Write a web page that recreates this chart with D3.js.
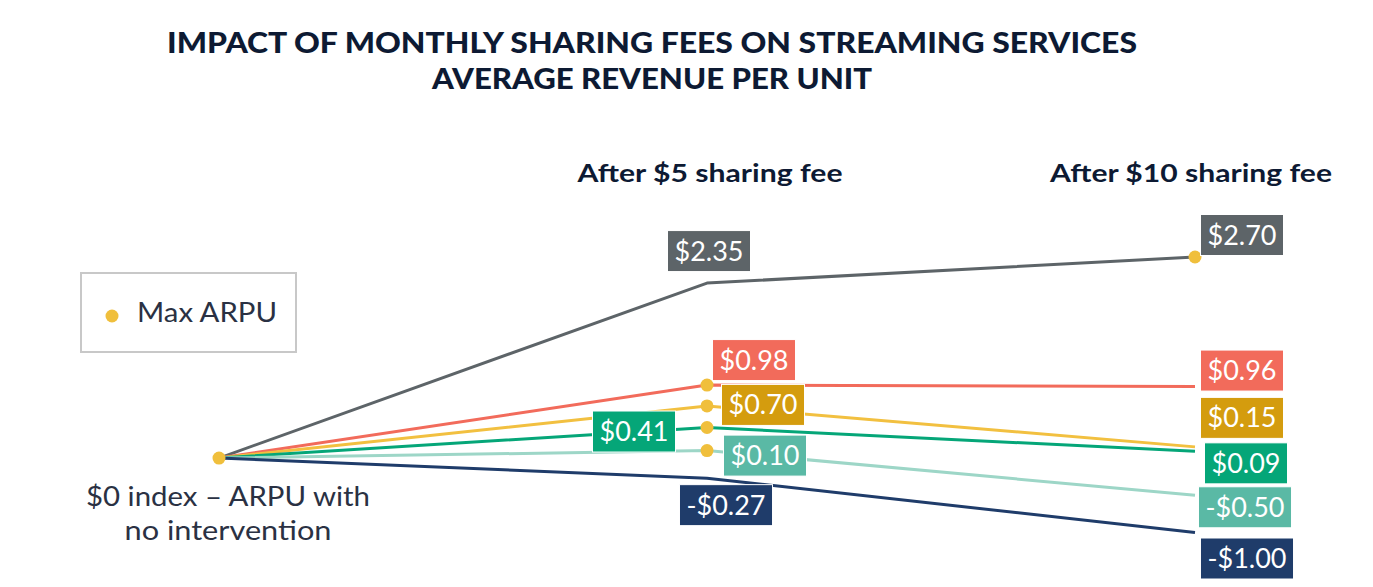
<!DOCTYPE html>
<html><head><meta charset="utf-8">
<script src="https://cdn.jsdelivr.net/npm/d3@7"></script>
<style>body{margin:0;background:#fff}svg{display:block}</style>
</head><body>
<svg id="c" width="1373" height="587"></svg>
<script>
// ---- data ----
const categories = ["$0 index", "After $5 sharing fee", "After $10 sharing fee"];
const seriesNames = ["Grey", "Coral", "Yellow", "Green", "Teal", "Navy"];
const greyValues   = [0, 2.35, 2.70];
const coralValues  = [0, 0.98, 0.96];
const yellowValues = [0, 0.70, 0.15];
const greenValues  = [0, 0.41, 0.09];
const tealValues   = [0, 0.10, -0.50];
const navyValues   = [0, -0.27, -1.00];
const maxArpuIndex = [2, 1, 1, 1, 1, 0]; // category index of max ARPU per series
const titleLines = ["IMPACT OF MONTHLY SHARING FEES ON STREAMING SERVICES", "AVERAGE REVENUE PER UNIT"];
const originLabel = ["$0 index \u2013 ARPU with", "no intervention"];
const legendLabel = "Max ARPU";

// ---- styles / layout ----
const lineColors  = ["#5d6468", "#f26b5b", "#f2c040", "#05a678", "#9dd6c7", "#1f3c6a"];
const labelColors = ["#5d6468", "#f26b5b", "#d49c0e", "#05a678", "#5ab9a5", "#1f3c6a"];
const dotColor = "#f0bf3c";
// label box centre offsets from data point [category][series] -> [dx, dy]
const labelOffsets = {
  1: [[2,-32],[47,-25],[56,-1],[-73,4],[58,5],[19,27]],
  2: [[47,-22],[47,-16],[47,-29],[51,12],[50,12],[52,26]]
};

const allValues = [greyValues, coralValues, yellowValues, greenValues, tealValues, navyValues];
const series = seriesNames.map((n,i)=>({name:n, values:allValues[i], color:lineColors[i], label:labelColors[i], maxIdx:maxArpuIndex[i]}));

const svg = d3.select("#c");
const font = "'Lato','Open Sans',sans-serif";

const x = d3.scalePoint().domain(categories).range([219, 1195]);
const y = d3.scaleLinear().domain([-1, 2.7]).range([532.5, 257]);

// title
titleLines.forEach((t,i)=>{
  svg.append("text").attr("x", 652).attr("y", 53 + i*36)
    .attr("text-anchor","middle").attr("font-family","'Lato',sans-serif").attr("font-weight","900")
    .attr("font-size", 29).attr("fill","#0d1a33")
    .attr("textLength", i===0 ? 970 : 440).attr("lengthAdjust","spacingAndGlyphs")
    .text(t);
});

// column headers
const headerCenters = [710, 1191], headerWidths = [265, 282];
categories.slice(1).forEach((c,i)=>{
  svg.append("text").attr("x", headerCenters[i]).attr("y", 182)
    .attr("text-anchor","middle").attr("font-family","'Lato',sans-serif").attr("font-weight","700")
    .attr("font-size", 25).attr("fill","#0d1a33")
    .attr("textLength", headerWidths[i]).attr("lengthAdjust","spacingAndGlyphs").text(c);
});

// legend
const lg = svg.append("g");
lg.append("rect").attr("x",81).attr("y",273).attr("width",215).attr("height",79)
  .attr("fill","#fff").attr("stroke","#c8c8c8").attr("stroke-width",2);
lg.append("circle").attr("cx",112).attr("cy",316).attr("r",6.5).attr("fill",dotColor);
lg.append("text").attr("x",137).attr("y",322).attr("font-family",font).attr("font-size",26)
  .attr("fill","#2a3143").attr("textLength",140).attr("lengthAdjust","spacingAndGlyphs").text(legendLabel);

// lines
const line = d3.line().x((d,i)=>x(categories[i])).y(d=>y(d));
svg.append("g").selectAll("path").data(series).join("path")
  .attr("d", d=>line(d.values)).attr("fill","none")
  .attr("stroke", d=>d.color).attr("stroke-width",3).attr("stroke-linejoin","round");

// max dots
svg.append("g").selectAll("circle").data(series).join("circle")
  .attr("cx", d=>x(categories[d.maxIdx])).attr("cy", d=>y(d.values[d.maxIdx]))
  .attr("r", 6.5).attr("fill", dotColor);

// origin label
const originWidths = [284, 207];
originLabel.forEach((t,i)=>{
  svg.append("text").attr("x", 228).attr("y", 506 + i*34).attr("text-anchor","middle")
    .attr("font-family",font).attr("font-size",26).attr("fill","#2a3143")
    .attr("textLength", originWidths[i]).attr("lengthAdjust","spacingAndGlyphs").text(t);
});

// value labels
const fmt = v => (v<0?"-":"") + "$" + Math.abs(v).toFixed(2);
[1,2].forEach(ci=>{
  series.forEach((s,si)=>{
    const [dx,dy] = labelOffsets[ci][si];
    const cx = x(categories[ci]) + dx, cy = y(s.values[ci]) + dy;
    const g = svg.append("g");
    const rect = g.append("rect").attr("fill", s.label).attr("stroke","#fff").attr("stroke-width",1);
    const tx = g.append("text").attr("x", cx).attr("y", cy + 9.5).attr("text-anchor","middle")
      .attr("font-family",font).attr("font-size",27).attr("fill","#fff").text(fmt(s.values[ci]));
    const w = tx.node().getComputedTextLength() + 14;
    rect.attr("x", cx - w/2).attr("y", cy - 20.5).attr("width", w).attr("height", 41);
  });
});
</script>
</body></html>
